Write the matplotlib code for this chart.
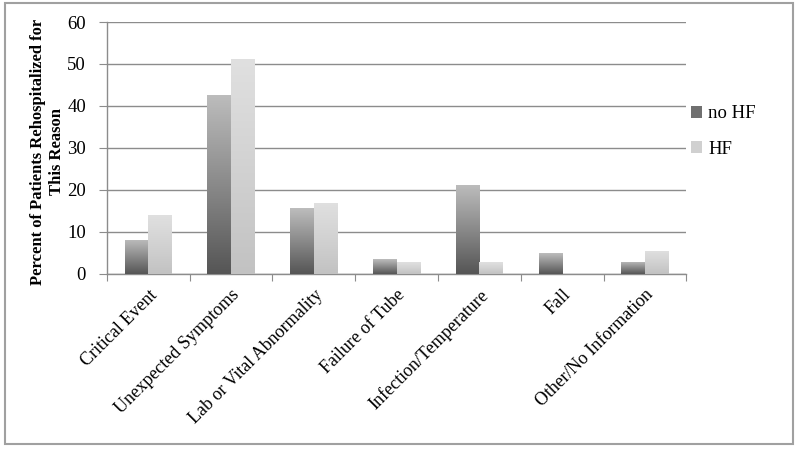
#!/usr/bin/env python3

import matplotlib
matplotlib.use("Agg")
import matplotlib.pyplot as plt
import numpy as np
from matplotlib.colors import LinearSegmentedColormap
from matplotlib.patches import Patch, Rectangle


categories = ["Critical Event", "Unexpected Symptoms", "Lab or Vital Abnormality",
              "Failure of Tube", "Infection/Temperature", "Fall", "Other/No Information"]
no_hf = [8.1, 42.7, 15.6, 3.5, 21.2, 4.9, 2.9]
hf = [14.0, 51.2, 17.0, 2.8, 2.8, 0.0, 5.5]
series_names = ["no HF", "HF"]

plt.rcParams['font.family'] = ['Liberation Serif', 'DejaVu Serif']
plt.rcParams['font.size'] = 13

fig = plt.figure(figsize=(7.98, 4.49), dpi=100)
ax = fig.add_axes([0.134, 0.390, 0.726, 0.561])

# outer frame
fig.patches.append(Rectangle((0.006, 0.011), 0.988, 0.982, transform=fig.transFigure,
                             fill=False, edgecolor='#a0a0a0', linewidth=1.5))

dark = LinearSegmentedColormap.from_list("dark", ["#555555", "#8a8a8a", "#bdbdbd"])
light = LinearSegmentedColormap.from_list("light", ["#c2c2c2", "#d2d2d2", "#e0e0e0"])
grad = np.linspace(0, 1, 256).reshape(-1, 1)

x = np.arange(len(categories))
w = 0.285
for vals, off, cmap in [(no_hf, -w / 2, dark), (hf, w / 2, light)]:
    bars = ax.bar(x + off, vals, width=w, color='none', edgecolor='none', zorder=3)
    for b in bars:
        h = b.get_height()
        if h <= 0:
            continue
        bx = b.get_x()
        im = ax.imshow(grad, cmap=cmap, origin='lower', aspect='auto',
                       extent=[bx, bx + w, 0, h], zorder=3, interpolation='bilinear')
        im.set_clip_path(b)

ax.set_xlim(-0.5, len(categories) - 0.5)
ax.set_ylim(0, 60)
ax.set_yticks(np.arange(0, 61, 10))
ax.yaxis.grid(True, color='#8c8c8c', linewidth=1.0, zorder=0)
ax.set_axisbelow(True)

ax.set_xticks(np.arange(-0.5, len(categories), 1.0))
ax.set_xticklabels([])
ax.set_xticks(x, minor=True)
ax.set_xticklabels(categories, minor=True, rotation=45, ha='right',
                   rotation_mode='anchor', fontsize=13)
ax.tick_params(axis='x', which='minor', length=0, pad=9)
ax.tick_params(axis='x', which='major', length=5, color='#8c8c8c', direction='out')
ax.tick_params(axis='y', length=6, color='#8c8c8c', labelsize=13.5, pad=9)

for s in ['top', 'right']:
    ax.spines[s].set_visible(False)
for s in ['left', 'bottom']:
    ax.spines[s].set_color('#8c8c8c')
    ax.spines[s].set_linewidth(1.0)

ax.set_ylabel("Percent of Patients Rehospitalized for\nThis Reason",
              fontweight='bold', fontsize=12, linespacing=1.25)
ax.yaxis.set_label_coords(-0.073, 0.486)

handles = [Patch(facecolor='#707070', edgecolor='none'),
           Patch(facecolor='#d0d0d0', edgecolor='none')]
fig.legend(handles, series_names, loc='center left', bbox_to_anchor=(0.845, 0.707),
           frameon=False, fontsize=13.5, handlelength=0.6, handleheight=0.6,
           handletextpad=0.3, labelspacing=1.0)

plt.savefig("out.png", dpi=100)
